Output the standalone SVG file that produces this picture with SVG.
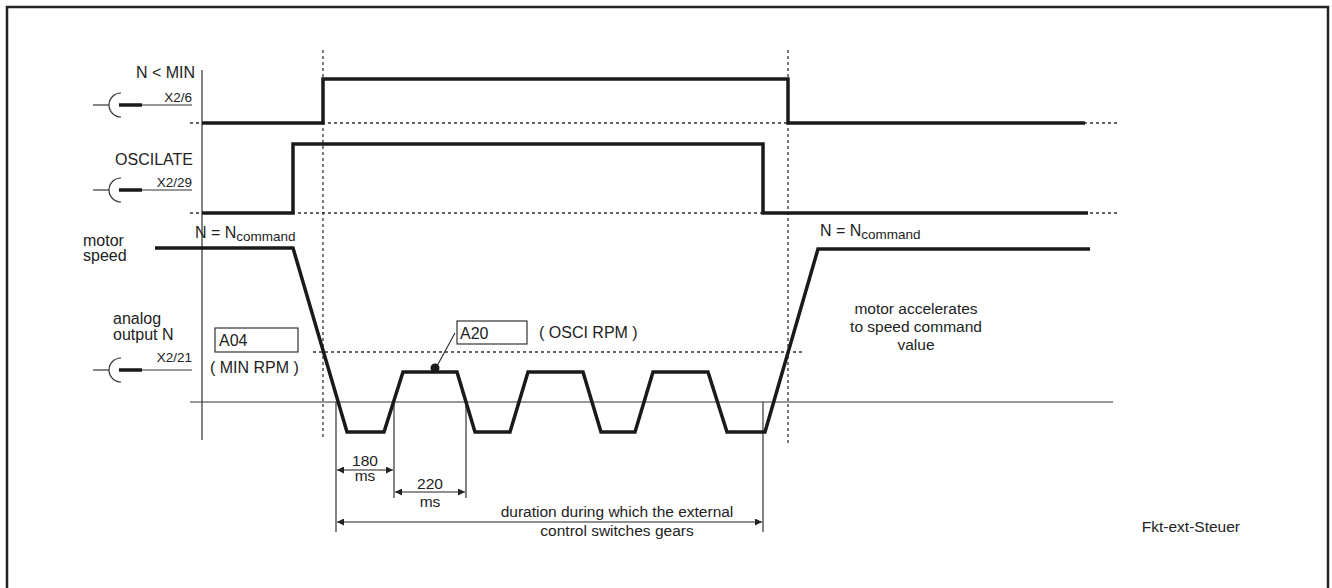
<svg xmlns="http://www.w3.org/2000/svg" width="1332" height="588" viewBox="0 0 1332 588">
<style>
text{font-family:"Liberation Sans",Arial,sans-serif;fill:#222}
.lbl{font-size:16px}
.sm{font-size:13.5px}
.mid{font-size:15.5px}
.sig{fill:none;stroke:#1a1a1a;stroke-width:3.5;stroke-linejoin:miter}
.dot{fill:none;stroke:#333;stroke-width:1.3;stroke-dasharray:3 3}
.thin{fill:none;stroke:#333;stroke-width:1.2}
.box{fill:#fff;stroke:#333;stroke-width:1.2}
.dim{fill:none;stroke:#222;stroke-width:1.2;marker-start:url(#ah);marker-end:url(#ah)}
</style>
<defs>
<marker id="ah" viewBox="0 0 10 10" refX="10" refY="5" markerWidth="9" markerHeight="7" markerUnits="userSpaceOnUse" orient="auto-start-reverse">
<path d="M0,0 L10,5 L0,10 Z" fill="#222"/>
</marker>
<g id="term">
<line x1="93" y1="0" x2="109" y2="0" stroke="#333" stroke-width="1.2"/>
<path d="M121,-12 A12,12 0 0 0 121,12" fill="none" stroke="#333" stroke-width="1.2"/>
<line x1="119" y1="0" x2="142" y2="0" stroke="#1a1a1a" stroke-width="3.5"/>
<line x1="142" y1="0" x2="192" y2="0" stroke="#333" stroke-width="1.2"/>
</g>
</defs>
<rect width="1332" height="588" fill="#fff"/>
<path d="M7,592 L7,7 L1328,7 L1328,592" fill="none" stroke="#222" stroke-width="2.5"/>

<g id="connectors">
<line class="thin" x1="202" y1="70" x2="202" y2="440"/>
<line class="thin" x1="190" y1="402" x2="1113" y2="402" stroke="#555"/>
<line class="dot" x1="190" y1="123" x2="1120" y2="123"/>
<line class="dot" x1="190" y1="213" x2="1120" y2="213"/>
<line class="dot" x1="323" y1="50" x2="323" y2="440"/>
<line class="dot" x1="788" y1="50" x2="788" y2="445"/>
<line class="dot" x1="313" y1="352" x2="802" y2="352"/>
<line class="thin" x1="336" y1="402" x2="336" y2="532"/>
<line class="thin" x1="394" y1="402" x2="394" y2="498"/>
<line class="thin" x1="466" y1="402" x2="466" y2="498"/>
<line class="thin" x1="763" y1="402" x2="763" y2="532"/>
<line class="dim" x1="337" y1="470" x2="393" y2="470"/>
<line class="dim" x1="395" y1="492" x2="465" y2="492"/>
<line class="dim" x1="337" y1="522" x2="762" y2="522"/>
<line class="thin" x1="455" y1="333" x2="437" y2="366"/>
<circle cx="435" cy="368" r="4.5" fill="#1a1a1a"/>
</g>

<g id="sig-nmin">
<text class="lbl" x="195" y="78" text-anchor="end">N &lt; MIN</text>
<use href="#term" y="105"/>
<text class="sm" x="192" y="102" text-anchor="end">X2/6</text>
<path class="sig" d="M202,123 L323,123 L323,79 L788,79 L788,123 L1085,123"/>
</g>

<g id="sig-osc">
<text class="lbl" x="193" y="165" text-anchor="end">OSCILATE</text>
<use href="#term" y="190"/>
<text class="sm" x="192" y="187" text-anchor="end">X2/29</text>
<path class="sig" d="M202,213 L293,213 L293,144 L763,144 L763,213 L1088,213"/>
</g>

<g id="motor-speed">
<text class="lbl" x="83" y="246">motor</text>
<text class="lbl" x="83" y="261">speed</text>
<text class="lbl" x="195" y="238">N = N<tspan font-size="13.5" dy="3">command</tspan></text>
<text class="lbl" x="820" y="236">N = N<tspan font-size="13.5" dy="3">command</tspan></text>
<path class="sig" stroke-width="4" d="M155,248 L293,248 L347,432 L384,432 L403,372 L457,372 L475,432 L510,432 L528,372 L583,372 L601,432 L635,432 L653,372 L708,372 L727,432 L765,432 L818,249 L1090,249"/>
</g>

<g id="analog-out">
<text class="lbl" x="113" y="324">analog</text>
<text class="lbl" x="113" y="340">output N</text>
<use href="#term" y="370"/>
<text class="sm" x="192" y="362" text-anchor="end">X2/21</text>
</g>

<g id="box-a04">
<rect class="box" x="215" y="328" width="83" height="24"/>
<text class="lbl" x="219" y="346">A04</text>
<text class="lbl" x="210" y="373">( MIN RPM )</text>
</g>

<g id="box-a20">
<rect class="box" x="457" y="321" width="70" height="23"/>
<text class="lbl" x="460" y="339">A20</text>
<text class="lbl" x="539" y="338">( OSCI RPM )</text>
</g>

<g id="dim-labels">
<text class="mid" x="365" y="466" text-anchor="middle">180</text>
<text class="mid" x="365" y="481" text-anchor="middle">ms</text>
<text class="mid" x="430" y="489" text-anchor="middle">220</text>
<text class="mid" x="430" y="507" text-anchor="middle">ms</text>
<text class="mid" x="617" y="517" text-anchor="middle">duration during which the external</text>
<text class="mid" x="617" y="536" text-anchor="middle">control switches gears</text>
</g>

<g id="note">
<text class="mid" x="916" y="314" text-anchor="middle">motor accelerates</text>
<text class="mid" x="916" y="332" text-anchor="middle">to speed command</text>
<text class="mid" x="916" y="350" text-anchor="middle">value</text>
</g>

<g id="caption">
<text class="mid" x="1240" y="532" text-anchor="end" font-size="14">Fkt-ext-Steuer</text>
</g>
</svg>
